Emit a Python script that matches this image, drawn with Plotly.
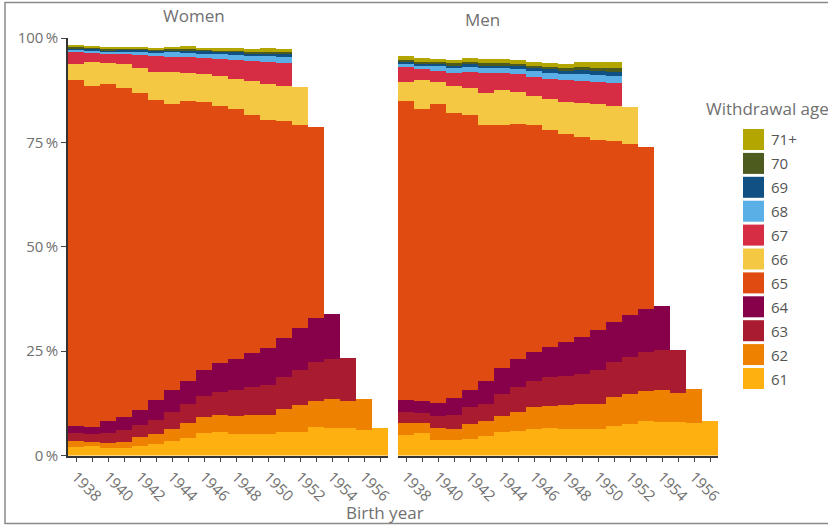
import plotly.graph_objects as go

# ---------------- data ----------------
birth_years = list(range(1938, 1958))
age_labels = ["61", "62", "63", "64", "65", "66", "67", "68", "69", "70", "71+"]
age_colors = ["#FDB010", "#EE8100", "#A91C30", "#86004A", "#E04B12", "#F5C843",
              "#D62D45", "#5AAFE6", "#115082", "#4E5B1F", "#B3A600"]

# shares (%) by withdrawal age; series end where cohort has not yet reached that age
women_61 = [2.1, 2.3, 1.9, 1.9, 2.3, 2.8, 3.4, 4.1, 5.3, 5.6, 5.2, 5.1, 5.1, 5.6, 5.7, 6.8, 6.7, 6.6, 6.0, 6.7]
women_62 = [1.4, 1.0, 1.2, 1.3, 2.2, 2.3, 2.9, 3.6, 4.0, 4.2, 4.3, 4.7, 4.7, 5.5, 6.3, 6.3, 6.8, 6.4, 7.5]
women_63 = [2.0, 1.8, 2.4, 2.8, 2.8, 3.4, 4.2, 4.6, 5.0, 5.3, 6.2, 6.5, 7.1, 7.8, 8.5, 9.2, 9.5, 10.4]
women_64 = [1.6, 1.7, 2.8, 3.2, 3.5, 4.7, 5.2, 5.5, 6.2, 7.0, 7.3, 8.2, 8.8, 9.3, 10.0, 10.6, 10.9]
women_65 = [82.8, 81.7, 80.7, 78.8, 76.0, 71.9, 68.6, 67.0, 64.2, 61.7, 59.9, 57.1, 54.7, 51.9, 48.7, 45.7]
women_66 = [3.8, 5.8, 4.9, 5.8, 5.9, 6.7, 7.6, 6.9, 6.7, 7.1, 7.4, 8.2, 8.7, 8.5, 9.1]
women_67 = [2.9, 2.2, 2.3, 2.4, 3.2, 3.8, 3.6, 3.7, 3.8, 4.1, 4.5, 4.6, 5.1, 5.3]
women_68 = [0.6, 0.6, 0.5, 0.6, 0.9, 1.0, 1.1, 1.1, 1.0, 1.1, 1.2, 1.2, 1.4, 1.6]
women_69 = [0.4, 0.4, 0.4, 0.4, 0.4, 0.4, 0.5, 0.5, 0.7, 0.6, 0.7, 0.7, 0.7, 0.7]
women_70 = [0.3, 0.3, 0.3, 0.3, 0.3, 0.3, 0.3, 0.4, 0.3, 0.3, 0.3, 0.4, 0.4, 0.4]
women_71 = [0.4, 0.4, 0.4, 0.4, 0.4, 0.4, 0.5, 0.7, 0.5, 0.5, 0.5, 0.7, 0.8, 0.8]

men_61 = [4.9, 5.3, 3.8, 3.6, 4.0, 4.7, 5.6, 5.8, 6.4, 6.6, 6.4, 6.3, 6.4, 7.1, 7.6, 8.3, 8.1, 8.1, 7.7, 8.3]
men_62 = [3.0, 2.4, 2.9, 2.7, 3.5, 3.6, 3.9, 4.7, 5.2, 5.3, 5.6, 6.0, 6.0, 6.9, 7.1, 7.1, 7.6, 6.9, 8.2]
men_63 = [2.6, 2.4, 2.8, 3.5, 4.0, 4.0, 5.2, 5.8, 6.2, 6.8, 7.1, 7.2, 8.1, 8.5, 8.8, 9.5, 9.5, 10.2]
men_64 = [2.8, 2.9, 3.1, 4.0, 4.2, 5.6, 6.3, 6.7, 6.9, 7.4, 8.2, 9.0, 9.5, 9.4, 10.2, 10.2, 10.7]
men_65 = [71.7, 69.9, 71.6, 68.3, 65.9, 61.3, 58.2, 56.5, 54.5, 51.9, 49.6, 47.8, 45.6, 43.5, 41.0, 38.7]
men_66 = [4.4, 7.0, 5.2, 6.5, 6.5, 7.7, 8.3, 7.5, 6.9, 7.5, 7.8, 8.2, 8.5, 8.4, 8.8]
men_67 = [3.6, 2.7, 2.8, 3.1, 3.8, 4.8, 4.2, 4.4, 4.6, 4.8, 5.2, 5.3, 5.4, 5.5]
men_68 = [0.9, 0.9, 1.1, 1.1, 1.2, 1.2, 1.2, 1.2, 1.3, 1.4, 1.5, 1.6, 1.6, 1.5]
men_69 = [0.4, 0.4, 0.5, 0.6, 0.6, 0.5, 0.5, 0.6, 0.7, 0.8, 0.8, 0.9, 1.0, 1.1]
men_70 = [0.5, 0.4, 0.4, 0.5, 0.5, 0.6, 0.6, 0.6, 0.7, 0.6, 0.7, 0.7, 0.7, 0.8]
men_71 = [0.9, 0.9, 0.7, 0.8, 1.0, 0.9, 1.0, 0.9, 0.9, 0.9, 0.9, 1.2, 1.4, 1.6]

women_series = [women_61, women_62, women_63, women_64, women_65, women_66,
                women_67, women_68, women_69, women_70, women_71]
men_series = [men_61, men_62, men_63, men_64, men_65, men_66,
              men_67, men_68, men_69, men_70, men_71]

y_ticks = [0, 25, 50, 75, 100]
y_tick_labels = ["0\u2009%", "25\u2009%", "50\u2009%", "75\u2009%", "100\u2009%"]

# ---------------- figure ----------------
W, H = 828, 525
def px_x(x):
    return x / W
def px_y(y):
    return (H - y) / H

def pad(vals):
    return list(vals) + [None] * (len(birth_years) - len(vals))

fig = go.Figure()
for panel, series in (("x", women_series), ("x2", men_series)):
    for lab, col, vals in zip(age_labels, age_colors, series):
        fig.add_trace(go.Bar(
            x=birth_years, y=pad(vals), name=lab,
            marker=dict(color=col, line=dict(width=0)),
            xaxis=panel, yaxis="y" if panel == "x" else "y2",
            showlegend=False,
        ))

grey_txt = "#707070"
font_family = "Open Sans, Noto Sans, sans-serif"

xaxis_common = dict(
    range=[1937.5, 1957.5], tickmode="linear", tick0=1938, dtick=2,
    tickangle=45, ticks="outside", ticklen=5, tickcolor="#444",
    showline=True, linecolor="#333", linewidth=1.5,
    showgrid=False, zeroline=False, automargin=False,
    tickfont=dict(size=15, color=grey_txt),
    minor=dict(dtick=1, tick0=1938, ticks="outside", ticklen=5, tickcolor="#444"),
)
y_dom = [px_y(455.5), px_y(38)]

fig.update_layout(
    template="none",
    width=W, height=H, autosize=False,
    margin=dict(l=0, r=0, t=0, b=0, pad=0, autoexpand=False),
    paper_bgcolor="white", plot_bgcolor="white",
    barmode="stack", bargap=0,
    font=dict(family=font_family, color=grey_txt),
    xaxis=dict(domain=[px_x(68), px_x(388)], anchor="y", **xaxis_common),
    xaxis2=dict(domain=[px_x(398), px_x(718)], anchor="y2", **xaxis_common),
    yaxis=dict(domain=y_dom, range=[0, 100], tickmode="array",
               tickvals=y_ticks, ticktext=y_tick_labels,
               ticks="outside", ticklen=5, tickcolor="#444",
               showline=True, linecolor="#333", linewidth=1.5,
               showgrid=False, zeroline=False, automargin=False,
               tickfont=dict(size=15, color=grey_txt)),
    yaxis2=dict(domain=y_dom, range=[0, 100], anchor="x2", automargin=False,
                showticklabels=False, showline=False, showgrid=False,
                zeroline=False, ticks=""),
)

annotations = [
    dict(text="Women", x=px_x(194), y=px_y(15), font=dict(size=17, color=grey_txt)),
    dict(text="Men", x=px_x(482), y=px_y(20), font=dict(size=17, color=grey_txt)),
    dict(text="Birth year", x=px_x(385), y=px_y(512), font=dict(size=17, color=grey_txt)),
    dict(text="Withdrawal age", x=px_x(704), y=px_y(109), xanchor="left",
         font=dict(size=17, color=grey_txt)),
]
shapes = []
# custom legend (top item = oldest age)
for i, (lab, col) in enumerate(zip(age_labels[::-1], age_colors[::-1])):
    top = 129 + 23.9 * i
    shapes.append(dict(type="rect", xref="paper", yref="paper",
                       x0=px_x(743), x1=px_x(764), y0=px_y(top + 21), y1=px_y(top),
                       fillcolor=col, line=dict(width=0)))
    annotations.append(dict(text=lab, x=px_x(769), y=px_y(top + 10.5), xanchor="left",
                            font=dict(size=15, color="#555")))

for a in annotations:
    a.setdefault("xanchor", "center")
    a.update(xref="paper", yref="paper", yanchor="middle", showarrow=False)

# frame around the picture
shapes.append(dict(type="path", xref="paper", yref="paper",
                   path=f"M {px_x(830)},{px_y(2.5)} L {px_x(5)},{px_y(2.5)} "
                        f"L {px_x(5)},{px_y(523.5)} L {px_x(830)},{px_y(523.5)}",
                   line=dict(color="#8a8a8a", width=1.5)))

fig.update_layout(annotations=annotations, shapes=shapes)

pin_script = (
    "document.documentElement.style.overflow='hidden';"
    "document.body.style.margin='0';document.body.style.overflow='hidden';"
    "var gd=document.getElementById('{plot_id}');"
    "gd.style.position='fixed';gd.style.left='0px';gd.style.top='0px';"
)
fig.write_html("out.html", config={"displayModeBar": False}, post_script=pin_script)
